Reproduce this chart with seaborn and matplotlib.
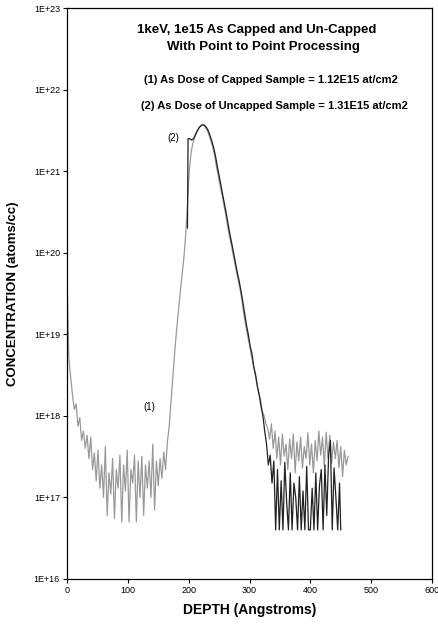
import numpy as np
import pandas as pd
import seaborn as sns
import matplotlib.pyplot as plt
from matplotlib.ticker import FixedLocator, FuncFormatter, NullLocator

# Depth profile (1) - capped sample, grey line
capped_depth = list(range(0, 463, 3))
capped_conc = [
    5.0e19, 5.0e18, 3.0e18, 1.8e18, 1.2e18, 1.4e18, 7.5e17, 9.5e17, 5.0e17, 6.5e17,
    4.0e17, 5.8e17, 3.0e17, 5.5e17, 2.2e17, 3.5e17, 1.6e17, 3.8e17, 1.3e17, 2.5e17,
    1.0e17, 4.2e17, 6.0e16, 2.0e17, 1.1e17, 3.0e17, 5.5e16, 2.2e17, 1.3e17, 3.3e17,
    5.0e16, 2.5e17, 1.2e17, 3.8e17, 5.0e16, 2.2e17, 1.5e17, 3.3e17, 5.0e16, 2.8e17,
    1.0e17, 3.2e17, 6.0e16, 2.5e17, 1.3e17, 2.8e17, 1.0e17, 4.5e17, 7.0e16, 2.8e17,
    1.4e17, 3.0e17, 1.7e17, 3.6e17, 2.2e17, 4.8e17, 7.5e17, 1.5e18, 3.0e18, 6.0e18,
    1.1e19, 1.9e19, 3.2e19, 5.2e19, 8.5e19, 1.6e20, 3.8e20, 1.0e21, 1.7e21, 2.2e21,
    2.6e21, 2.95e21, 3.3e21, 3.55e21, 3.7e21, 3.65e21, 3.4e21, 3.1e21, 2.7e21, 2.3e21,
    1.9e21, 1.5e21, 1.1e21, 8.5e20, 6.5e20, 5.0e20, 3.8e20, 2.9e20, 2.1e20, 1.6e20,
    1.25e20, 9.5e19, 7.3e19, 5.6e19, 4.4e19, 3.4e19, 2.5e19, 1.7e19, 1.25e19, 9.5e18,
    7.5e18, 5.5e18, 4.3e18, 3.3e18, 2.5e18, 1.9e18, 1.6e18, 1.15e18, 1.0e18, 8.0e17,
    7.0e17, 5.2e17, 8.0e17, 4.0e17, 6.5e17, 3.0e17, 5.5e17, 2.5e17, 6.0e17, 3.2e17,
    4.5e17, 2.2e17, 5.2e17, 3.0e17, 6.0e17, 2.0e17, 4.8e17, 2.8e17, 5.5e17, 2.3e17,
    4.2e17, 3.0e17, 6.2e17, 2.5e17, 4.5e17, 2.0e17, 5.0e17, 2.8e17, 6.5e17, 3.3e17,
    5.5e17, 2.4e17, 6.3e17, 3.0e17, 5.8e17, 2.6e17, 4.8e17, 3.0e17, 5.0e17, 2.3e17,
    4.2e17, 1.8e17, 3.8e17, 2.5e17, 3.2e17,
]

# Depth profile (2) - uncapped sample, black line
uncapped_depth = [198] + list(range(199, 449, 3)) + [450]
uncapped_conc = [
    2.0e20, 2.5e21, 2.5e21, 2.4e21, 2.5e21, 2.8e21, 3.1e21, 3.4e21, 3.6e21, 3.7e21,
    3.65e21, 3.45e21, 3.15e21, 2.75e21, 2.35e21, 1.95e21, 1.55e21, 1.15e21, 8.8e20, 6.7e20,
    5.1e20, 3.9e20, 3.0e20, 2.2e20, 1.65e20, 1.28e20, 9.8e19, 7.5e19, 5.7e19, 4.5e19,
    3.4e19, 2.5e19, 1.8e19, 1.3e19, 1.0e19, 7.2e18, 5.8e18, 4.0e18, 3.2e18, 2.3e18,
    1.8e18, 1.3e18, 1.0e18, 6.5e17, 4.5e17, 2.5e17, 3.3e17, 1.5e17, 2.8e17, 4.0e16,
    2.2e17, 4.0e16, 1.6e17, 4.0e16, 2.7e17, 9.0e16, 4.0e16, 2.0e17, 4.0e16, 1.5e17,
    1.0e17, 4.0e16, 1.8e17, 4.0e16, 1.2e17, 4.0e16, 2.4e17, 4.0e16, 4.0e16, 1.3e17,
    4.0e16, 2.0e17, 4.0e16, 1.4e17, 2.2e17, 4.0e16, 2.5e17, 6.0e16, 3.2e17, 5.0e17,
    4.0e16, 2.3e17, 1.0e17, 4.0e16, 1.5e17, 4.0e16,
]

y_ticks = [1e16, 1e17, 1e18, 1e19, 1e20, 1e21, 1e22, 1e23]
x_ticks = [0, 100, 200, 300, 400, 500, 600]

title_lines = ["1keV, 1e15 As Capped and Un-Capped", "With Point to Point Processing"]
dose_lines = ["(1) As Dose of Capped Sample = 1.12E15 at/cm2",
              "(2) As Dose of Uncapped Sample = 1.31E15 at/cm2"]

n = min(len(capped_depth), len(capped_conc))
df1 = pd.DataFrame({"depth": capped_depth[:n], "conc": capped_conc[:n]})
m = min(len(uncapped_depth), len(uncapped_conc))
df2 = pd.DataFrame({"depth": uncapped_depth[:m], "conc": uncapped_conc[:m]})

sns.set_style("white")
plt.rcParams['font.family'] = ['Liberation Sans', 'DejaVu Sans']
plt.rcParams['text.color'] = 'black'
plt.rcParams['axes.labelcolor'] = 'black'
plt.rcParams['xtick.color'] = 'black'
plt.rcParams['ytick.color'] = 'black'

fig = plt.figure(figsize=(4.38, 6.24), dpi=100)
ax = fig.add_axes([67 / 438, 45 / 624, 365 / 438, 571 / 624])

sns.lineplot(data=df1, x="depth", y="conc", ax=ax, color="#999999", linewidth=0.9,
             sort=False, estimator=None)
sns.lineplot(data=df2, x="depth", y="conc", ax=ax, color="#222222", linewidth=0.9,
             sort=False, estimator=None)

ax.set_yscale("log")
ax.set_xlim(0, 600)
ax.set_ylim(1e16, 1e23)
ax.yaxis.set_major_locator(FixedLocator(y_ticks))
ax.yaxis.set_minor_locator(NullLocator())
ax.yaxis.set_major_formatter(FuncFormatter(lambda v, p: "1E+%d" % round(np.log10(v))))
ax.set_xticks(x_ticks)
ax.tick_params(axis="both", direction="out", length=3, width=0.8, labelsize=6.5,
               color="black", labelcolor="black", pad=2, left=True, bottom=True)

for s in ax.spines.values():
    s.set_color("black")
    s.set_linewidth(0.9)

ax.set_xlabel("DEPTH (Angstroms)", fontsize=10, fontweight="bold", labelpad=6)
ax.set_ylabel("CONCENTRATION (atoms/cc)", fontsize=9.5, fontweight="bold", labelpad=11)

# text box contents (figure pixel coordinates from top)
W, H = 438, 624
fig.text(257 / W, 1 - 30 / H, title_lines[0], ha="center", va="center",
         fontsize=9.5, fontweight="bold")
fig.text(263 / W, 1 - 47 / H, title_lines[1], ha="center", va="center",
         fontsize=9.5, fontweight="bold")
fig.text(271 / W, 1 - 80 / H, dose_lines[0], ha="center", va="center",
         fontsize=8, fontweight="bold")
fig.text(274 / W, 1 - 106 / H, dose_lines[1], ha="center", va="center",
         fontsize=8, fontweight="bold")
fig.text(149 / W, 1 - 407 / H, "(1)", ha="center", va="center", fontsize=7)
fig.text(173 / W, 1 - 138 / H, "(2)", ha="center", va="center", fontsize=7)

plt.savefig("out.png", dpi=100)
